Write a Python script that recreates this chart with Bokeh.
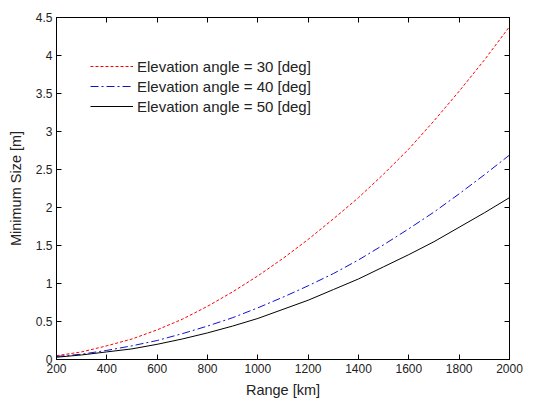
from bokeh.plotting import figure
from bokeh.models import LinearAxis, FixedTicker, CustomJSTickFormatter, Range1d, Legend, LegendItem
from bokeh.embed import file_html
from bokeh.resources import INLINE

range_km = [200, 300, 400, 500, 600, 700, 800, 900, 1000, 1100, 1200, 1300, 1400, 1500, 1600, 1700, 1800, 1900, 2000]
size_30 = [0.05, 0.10, 0.18, 0.27, 0.39, 0.53, 0.70, 0.89, 1.10, 1.33, 1.58, 1.85, 2.13, 2.44, 2.77, 3.14, 3.53, 3.94, 4.38]
size_40 = [0.04, 0.07, 0.12, 0.18, 0.25, 0.34, 0.44, 0.55, 0.68, 0.82, 0.97, 1.13, 1.31, 1.51, 1.72, 1.94, 2.18, 2.43, 2.69]
size_50 = [0.03, 0.06, 0.10, 0.14, 0.20, 0.27, 0.35, 0.44, 0.54, 0.66, 0.78, 0.92, 1.06, 1.22, 1.38, 1.55, 1.74, 1.93, 2.13]
labels = ["Elevation angle = 30 [deg]", "Elevation angle = 40 [deg]", "Elevation angle = 50 [deg]"]
x_ticks = [200, 400, 600, 800, 1000, 1200, 1400, 1600, 1800, 2000]
y_ticks = [0, 0.5, 1, 1.5, 2, 2.5, 3, 3.5, 4, 4.5]

FONT = "Liberation Sans"

p = figure(width=536, height=400, output_backend="svg", toolbar_location=None,
           x_range=Range1d(200, 2000), y_range=Range1d(0, 4.5),
           min_border_left=56, min_border_right=27, min_border_top=17, min_border_bottom=41)
p.background_fill_color = "white"
p.border_fill_color = "white"
p.outline_line_color = "black"
p.grid.visible = False

r1 = p.line(range_km, size_30, line_color="red", line_width=1, line_dash="3 2")
r2 = p.line(range_km, size_40, line_color="#1010d0", line_width=1, line_dash="8 3 2 3")
r3 = p.line(range_km, size_50, line_color="black", line_width=1)

yfmt = CustomJSTickFormatter(code="return String(Math.round(tick*10)/10);")
blank = CustomJSTickFormatter(code="return '';")

for ax in p.xaxis:
    ax.ticker = FixedTicker(ticks=x_ticks)
    ax.axis_label = "Range [km]"
    ax.axis_label_standoff = 6
for ax in p.yaxis:
    ax.ticker = FixedTicker(ticks=y_ticks)
    ax.formatter = yfmt
    ax.axis_label = "Minimum Size [m]"
    ax.axis_label_standoff = 9

for ax in p.xaxis + p.yaxis:
    ax.major_tick_in = 5
    ax.major_tick_out = 0
    ax.minor_tick_in = 0
    ax.minor_tick_out = 0
    ax.axis_line_color = "black"
    ax.major_tick_line_color = "black"
    ax.major_label_text_font = FONT
    ax.major_label_text_font_size = "12px"
    ax.major_label_text_color = "#222222"
    ax.axis_label_text_font = FONT
    ax.axis_label_text_font_size = "14.5px"
    ax.axis_label_text_font_style = "normal"
    ax.axis_label_text_color = "#222222"
    ax.major_label_standoff = 4

top = LinearAxis(ticker=FixedTicker(ticks=x_ticks), formatter=blank, major_tick_in=5, major_tick_out=0,
                 minor_tick_in=0, minor_tick_out=0, major_label_standoff=0, axis_line_color="black")
right = LinearAxis(ticker=FixedTicker(ticks=y_ticks), formatter=blank, major_tick_in=5, major_tick_out=0,
                   minor_tick_in=0, minor_tick_out=0, major_label_standoff=0, axis_line_color="black")
p.add_layout(top, "above")
p.add_layout(right, "right")

legend = Legend(items=[LegendItem(label=labels[0], renderers=[r1]),
                       LegendItem(label=labels[1], renderers=[r2]),
                       LegendItem(label=labels[2], renderers=[r3])],
                location=(34, 243))
legend.border_line_alpha = 0
legend.background_fill_alpha = 0
legend.padding = 0
legend.margin = 0
legend.spacing = 0
legend.glyph_width = 43
legend.glyph_height = 20
legend.label_height = 20
legend.label_standoff = 4
legend.label_text_font = FONT
legend.label_text_font_size = "15px"
legend.label_text_color = "#222222"
p.add_layout(legend, "center")

open("out.html", "w").write(file_html(p, INLINE))
